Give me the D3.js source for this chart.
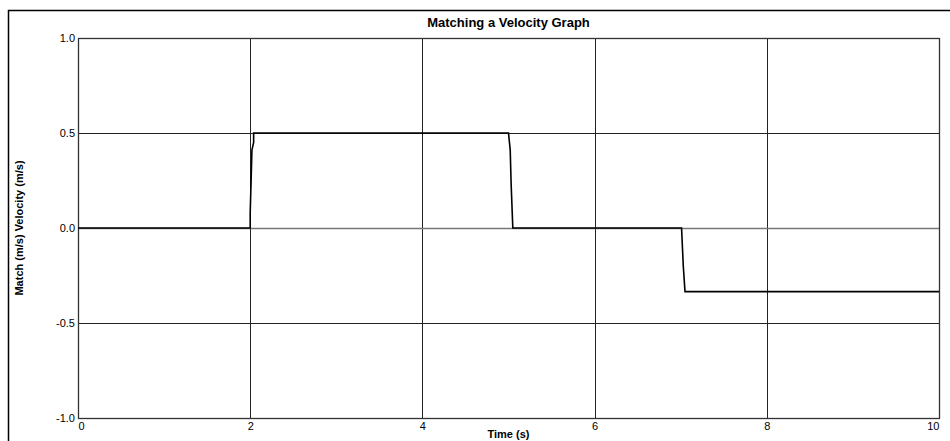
<!DOCTYPE html>
<html>
<head>
<meta charset="utf-8">
<script src="https://cdn.jsdelivr.net/npm/d3@7"></script>
<style>
  body { margin: 0; background: #fff; }
  svg { display: block; font-family: "Liberation Sans", Arial, sans-serif; }
</style>
</head>
<body>
<script>
// velocity samples (time in s, velocity in m/s)
const times    = [0, 2.0, 2.0, 2.01, 2.02, 2.04, 2.04, 5.0, 5.02, 5.03, 5.05, 7.01, 7.03, 7.05, 10];
const velocity = [0, 0,   0.08, 0.24, 0.41, 0.45, 0.5, 0.5, 0.41, 0.24, 0,    0,    -0.2, -0.335, -0.335];

const xTicks = [0, 2, 4, 6, 8, 10];
const yTicks = [-1.0, -0.5, 0.0, 0.5, 1.0];

const title = "Matching a Velocity Graph";
const xLabel = "Time (s)";
const yLabel = "Match (m/s) Velocity (m/s)";

const width = 950, height = 441;
const margin = { left: 78, top: 38, right: 11, bottom: 23 };

const svg = d3.select("body").append("svg")
  .attr("width", width)
  .attr("height", height);

// outer frame (runs off the right and bottom of the window)
svg.append("rect")
  .attr("x", 8.5).attr("y", 10.5)
  .attr("width", width).attr("height", height)
  .attr("fill", "none").attr("stroke", "#000").attr("stroke-width", 1.5);

const x = d3.scaleLinear().domain([0, 10]).range([margin.left, width - margin.right]);
const y = d3.scaleLinear().domain([-1, 1]).range([height - margin.bottom, margin.top]);

const plotW = x.range()[1] - x.range()[0];
const plotH = y.range()[0] - y.range()[1];

// grid lines
svg.append("g")
  .selectAll("line.v")
  .data(xTicks)
  .join("line")
  .attr("x1", d => Math.round(x(d)) + 0.5).attr("x2", d => Math.round(x(d)) + 0.5)
  .attr("y1", y(1)).attr("y2", y(-1))
  .attr("stroke", "#222");

svg.append("g")
  .selectAll("line.h")
  .data(yTicks)
  .join("line")
  .attr("x1", x(0)).attr("x2", x(10))
  .attr("y1", d => Math.round(y(d)) + 0.5).attr("y2", d => Math.round(y(d)) + 0.5)
  .attr("stroke", d => d === 0 ? "#777" : "#222")
  .attr("stroke-width", d => d === 0 ? 1.6 : 1);

// plot frame
svg.append("rect")
  .attr("x", x(0) + 0.5).attr("y", y(1) + 0.5)
  .attr("width", plotW).attr("height", plotH)
  .attr("fill", "none").attr("stroke", "#333").attr("stroke-width", 1.3);

// axes (labels only, grid does the lines)
const xAxis = svg.append("g")
  .attr("transform", `translate(0,${y(-1)})`)
  .call(d3.axisBottom(x).tickValues(xTicks).tickSize(0).tickPadding(4).tickFormat(d3.format("d")));
xAxis.select(".domain").remove();
xAxis.selectAll("text")
  .attr("font-size", 11).attr("font-family", "Liberation Sans, Arial, sans-serif").attr("fill", "#000")
  .attr("text-anchor", (d, i) => i === 0 ? "start" : (i === xTicks.length - 1 ? "end" : "middle"));

const fmtY = d3.format(".1f");
const yAxis = svg.append("g")
  .attr("transform", `translate(${x(0)},0)`)
  .call(d3.axisLeft(y).tickValues(yTicks).tickSize(0).tickPadding(3)
    .tickFormat(d => fmtY(d).replace("\u2212", "-")));
yAxis.select(".domain").remove();
yAxis.selectAll("text")
  .attr("font-size", 11).attr("font-family", "Liberation Sans, Arial, sans-serif").attr("fill", "#000");

// the velocity trace
const pts = times.map((t, i) => [t, velocity[i]]);
svg.append("path")
  .datum(pts)
  .attr("fill", "none")
  .attr("stroke", "#000")
  .attr("stroke-width", 1.6)
  .attr("d", d3.line().x(d => x(d[0])).y(d => y(d[1])));

// titles
svg.append("text")
  .attr("x", (x(0) + x(10)) / 2).attr("y", 27)
  .attr("text-anchor", "middle")
  .attr("font-size", 13).attr("font-weight", "bold")
  .text(title);

svg.append("text")
  .attr("x", (x(0) + x(10)) / 2).attr("y", 438)
  .attr("text-anchor", "middle")
  .attr("font-size", 11).attr("font-weight", "bold")
  .text(xLabel);

svg.append("text")
  .attr("transform", `translate(23,${y(0)}) rotate(-90)`)
  .attr("text-anchor", "middle")
  .attr("font-size", 11).attr("font-weight", "bold")
  .text(yLabel);
</script>
</body>
</html>
